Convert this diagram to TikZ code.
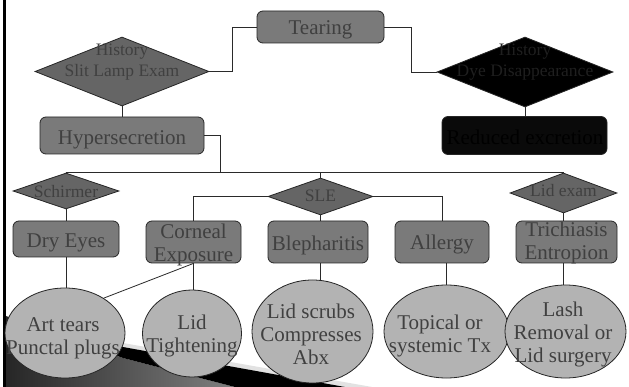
\documentclass[tikz,border=0pt]{standalone}
\usepackage{fontspec}
\setmainfont{Liberation Serif}
\usetikzlibrary{shapes.geometric}
\definecolor{boxg}{HTML}{7A7A7A}
\definecolor{diag}{HTML}{656565}
\definecolor{ellg}{HTML}{B3B3B3}
\definecolor{txtg}{HTML}{404040}
\definecolor{lineg}{HTML}{2A2A2A}
\definecolor{lightband}{HTML}{E2E2E2}
\tikzset{
 boxn/.style={draw=black!85, line width=0.8pt, fill=boxg, rounded corners=6pt, inner sep=0pt},
 blackbox/.style={boxn, fill=black!96},
 dia/.style={diamond, draw=black!85, line width=0.8pt, fill=diag, inner sep=0pt},
 blackdia/.style={dia, fill=black},
 ell/.style={ellipse, draw=black!85, line width=0.8pt, fill=ellg, inner sep=0pt},
 bt/.style={font=\fontsize{21}{23}\selectfont, text=txtg, align=center, inner sep=0pt},
 dt/.style={font=\fontsize{17.5}{21}\selectfont, text=txtg, align=center, inner sep=0pt},
 conn/.style={draw=lineg, line width=0.8pt},
}
\begin{document}
\begin{tikzpicture}[x=1pt,y=-1pt]
\useasboundingbox (0,0) rectangle (629,387);
\fill[white] (0,0) rectangle (629,387);
% decoration
\shade[left color=black!85, right color=black!50] (6,316) -- (123,358) -- (235,387) -- (6,387) -- cycle;
\fill[lightband] (60,330) -- (123,343) -- (372,387) -- (345,387) -- (123,347) -- cycle;
\fill[black] (60,334) -- (123,347) -- (345,387) -- (235,387) -- (123,358) -- cycle;
\draw[line width=3pt] (4.5,0) -- (4.5,387);
% shapes
\node[boxn, minimum width=127pt, minimum height=32pt] (tear) at (320.5,27) {};
\node[dia, minimum width=174pt, minimum height=69pt] (d1) at (122,71.5) {};
\node[blackdia, minimum width=176pt, minimum height=70pt] (d2) at (525,72) {};
\node[boxn, minimum width=164pt, minimum height=37pt] (hyp) at (122,135.5) {};
\node[blackbox, minimum width=165pt, minimum height=38pt] (red) at (524.5,135.5) {};
\node[dia, minimum width=106pt, minimum height=36pt] (d3) at (66,191) {};
\node[dia, minimum width=105pt, minimum height=37pt] (d4) at (320.5,196.5) {};
\node[dia, minimum width=107pt, minimum height=40pt] (d5) at (563.5,193) {};
\node[boxn, minimum width=106pt, minimum height=36pt] (dry) at (66,239) {};
\node[boxn, minimum width=95pt, minimum height=42pt] (corn) at (193.5,242) {};
\node[boxn, minimum width=100pt, minimum height=42pt] (bleph) at (318,242) {};
\node[boxn, minimum width=94pt, minimum height=42pt] (allg) at (442,242) {};
\node[boxn, minimum width=101pt, minimum height=42pt] (tri) at (566.5,242) {};
\node[ell, minimum width=120pt, minimum height=90pt] (e1) at (65,333) {};
\node[ell, minimum width=99pt, minimum height=87pt] (e2) at (192,333.5) {};
\node[ell, minimum width=121pt, minimum height=103pt] (e3) at (312.5,331.5) {};
\node[ell, minimum width=125pt, minimum height=93pt] (e4) at (446.5,331.5) {};
\node[ell, minimum width=121pt, minimum height=93pt] (e5) at (565.5,331.5) {};
% connectors
\draw[conn] (tear.west) -- ++(-24,0) |- (d1.east);
\draw[conn] (tear.east) -- ++(27,0) |- (d2.west);
\draw[conn] (d1.south) -- (hyp.north);
\draw[conn] (d2.south) -- (d2.south |- red.north);
\coordinate (bus) at (220,173);
\draw[conn] (hyp.east) -| (bus);
\draw[conn] (d3.north) -- (d5.north);
\draw[conn] (d4.north) -- (d4.north |- d3.north);
\draw[conn] (d3.south) -- (dry.north);
\draw[conn] (d4.west) -| (corn.north);
\draw[conn] (d4.east) -| (allg.north);
\draw[conn] (d4.south) -- (d4.south |- bleph.north);
\draw[conn] (d5.south) -- (d5.south |- tri.north);
\draw[conn] (dry.south) -- (dry.south |- e1.north);
\draw[conn] (corn.south) -- (corn.south |- e2.north);
\draw[conn] (corn.south) -- (e1.42);
\draw[conn] (d4.south |- bleph.south) -- (d4.south |- e3.north);
\draw[conn] (e4.north |- allg.south) -- (e4.north);
\draw[conn] (d5.south |- tri.south) -- (d5.south |- e5.north);
% texts
\node[bt] (teart) at (320.5,30.4) {\strut Tearing};
\node[dt] (d1t) at (122,62.3) {\strut History\\\strut Slit Lamp Exam};
\node[dt, text=black!88] (d2t) at (525,62.3) {\strut History\\\strut Dye Disappearance};
\node[bt] (hypt) at (122,139.7) {\strut Hypersecretion};
\node[bt, text=black] (redt) at (525,140.4) {\strut Reduced excretion};
\node[dt] (d3t) at (66,193.1) {\strut Schirmer};
\node[dt] (d4t) at (320.5,197.5) {\strut SLE};
\node[dt] (d5t) at (563.5,192.5) {\strut Lid exam};
\node[bt] (dryt) at (66,242.7) {\strut Dry Eyes};
\node[bt] (cornt) at (193.5,245.2) {\strut Corneal\\\strut Exposure};
\node[bt] (blepht) at (318,246) {\strut Blepharitis};
\node[bt] (allgt) at (442,245.4) {\strut Allergy};
\node[bt] (trit) at (566.5,243.6) {\strut Trichiasis\\\strut Entropion};
\node[bt] (e1t) at (63,338.6) {\strut Art tears\\\strut Punctal plugs};
\node[bt] (e2t) at (192,336.2) {\strut Lid\\\strut Tightening};
\node[bt] (e3t) at (311,336.7) {\strut Lid scrubs\\\strut Compresses\\\strut Abx};
\node[bt] (e4t) at (440,336.2) {\strut Topical or\\\strut systemic Tx};
\node[bt] (e5t) at (563,335.1) {\strut Lash\\\strut Removal or\\\strut Lid surgery};
\end{tikzpicture}
\end{document}
